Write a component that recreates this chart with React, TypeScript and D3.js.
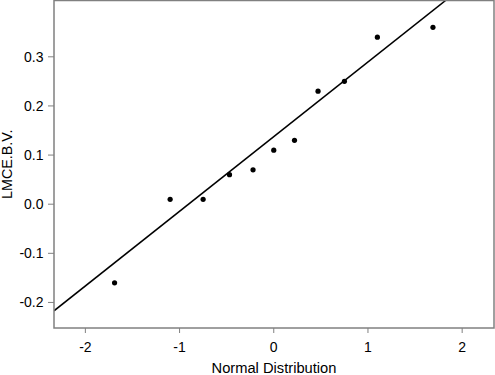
import React from "react";
import * as d3 from "d3";

const theoretical = [-1.69, -1.1, -0.75, -0.47, -0.22, 0, 0.22, 0.47, 0.75, 1.1, 1.69];
const observed = [-0.16, 0.01, 0.01, 0.06, 0.07, 0.11, 0.13, 0.23, 0.25, 0.34, 0.36];
const xTicks = [-2, -1, 0, 1, 2];
const yTicks = [-0.2, -0.1, 0.0, 0.1, 0.2, 0.3];
const xLabel = "Normal Distribution";
const yLabel = "LMCE.B.V.";

const W = 495, H = 375;
const L = 54, R = 494, T = 0.5, B = 328;

export default function App() {
  const x = d3.scaleLinear().domain([-2.333, 2.338]).range([L, R]);
  const y = d3.scaleLinear().domain([-0.252, 0.4146]).range([B, T]);
  const sorted = [...observed].sort((a, b) => a - b);
  const q1 = d3.quantile(sorted, 0.25)!;
  const q3 = d3.quantile(sorted, 0.75)!;
  const z = 0.6744898;
  const slope = (q3 - q1) / (2 * z);
  const intercept = q1 + slope * z;
  const x0 = x.domain()[0], x1 = x.domain()[1];
  const font = "'Liberation Sans', Arial, sans-serif";
  const fs = 14;
  return (
    <svg width={W} height={H} style={{ position: "absolute", left: 0, top: 0 }}>
      <defs>
        <clipPath id="c">
          <rect x={L} y={T} width={R - L} height={B - T} />
        </clipPath>
      </defs>
      <rect x={0} y={0} width={W} height={H} fill="white" />
      <line
        clipPath="url(#c)"
        x1={x(x0)} y1={y(intercept + slope * x0)}
        x2={x(x1)} y2={y(intercept + slope * x1)}
        stroke="black" strokeWidth={1.5}
      />
      {theoretical.map((t, i) => (
        <circle key={i} cx={x(t)} cy={y(observed[i])} r={2.6} fill="black" />
      ))}
      <rect x={L} y={T} width={R - L} height={B - T} fill="none" stroke="#808080" strokeWidth={1.5} />
      {xTicks.map((t) => (
        <g key={t}>
          <line x1={x(t)} x2={x(t)} y1={B} y2={B + 5} stroke="#808080" strokeWidth={1} />
          <text x={x(t)} y={352} textAnchor="middle" fontFamily={font} fontSize={fs}>{t}</text>
        </g>
      ))}
      {yTicks.map((t) => (
        <g key={t}>
          <line x1={L - 6} x2={L} y1={y(t)} y2={y(t)} stroke="#808080" strokeWidth={1} />
          <text x={43.5} y={y(t) + 5} textAnchor="end" fontFamily={font} fontSize={fs}>{t.toFixed(1)}</text>
        </g>
      ))}
      <text x={(L + R) / 2} y={372.5} textAnchor="middle" fontFamily={font} fontSize={14.7}>{xLabel}</text>
      <text transform={`translate(12,${(T + B) / 2}) rotate(-90)`} textAnchor="middle" fontFamily={font} fontSize={14.3}>{yLabel}</text>
    </svg>
  );
}
